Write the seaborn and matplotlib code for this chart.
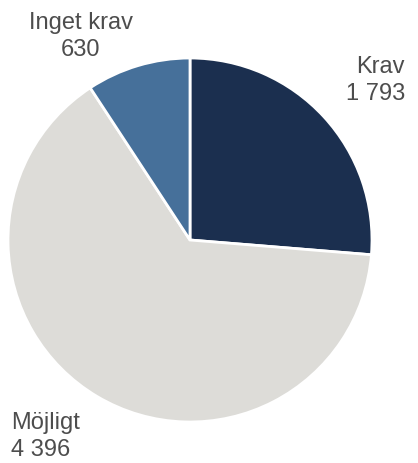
import matplotlib
matplotlib.use('Agg')
import matplotlib.pyplot as plt
import seaborn as sns

# data
labels = ['Krav', 'Möjligt', 'Inget krav']
values = [1793, 4396, 630]
value_text = ['1 793', '4 396', '630']
colors = ['#1b2f4f', '#dddcd8', '#46709a']

sns.set_theme(style='white')
plt.rcParams['font.family'] = ['Liberation Sans', 'DejaVu Sans']

fig = plt.figure(figsize=(4.18, 4.63), dpi=100)
ax = fig.add_axes([0, 0, 1, 1])

ax.pie(values, colors=colors, startangle=90, counterclock=False,
       center=(190, 223), radius=182,
       wedgeprops=dict(edgecolor='white', linewidth=2), frame=True)
ax.set_xlim(0, 418)
ax.set_ylim(0, 463)
ax.set_aspect('equal')
ax.axis('off')

txt = dict(fontsize=17, color='#4d4d4d', linespacing=1.3)
ax.text(405, 463 - 56, labels[0] + '\n' + value_text[0], ha='right', va='top', multialignment='right', **txt)
ax.text(81, 463 - 12, labels[2] + '\n' + value_text[2], ha='center', va='top', multialignment='center', **txt)
ax.text(11, 463 - 412, labels[1] + '\n' + value_text[1], ha='left', va='top', multialignment='left', **txt)

fig.savefig('out.png', dpi=100)
